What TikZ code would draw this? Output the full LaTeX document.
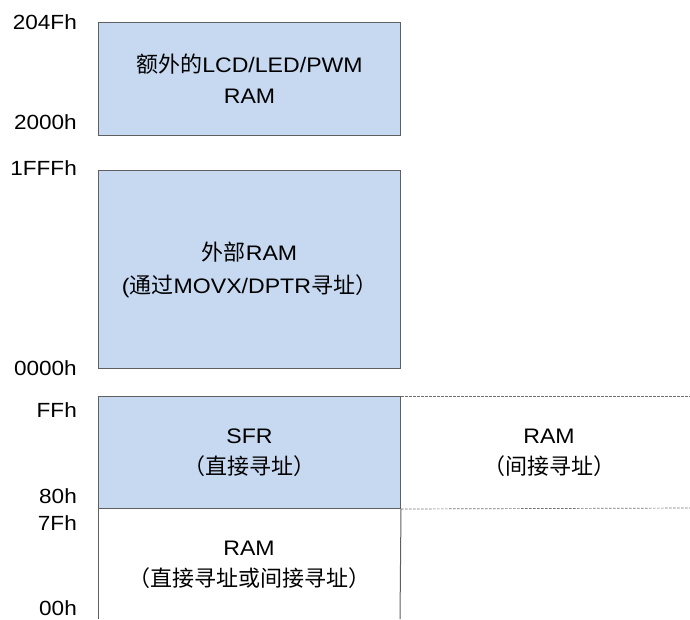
\documentclass[tikz,border=0pt]{standalone}
\usepackage{fontspec}
\setmainfont{Liberation Sans}[FakeStretch=1.1]
\newfontfamily\cjk{Noto Sans CJK SC}
\newcommand\zh[1]{{\cjk\fontsize{22}{31}\selectfont #1}}
\definecolor{boxfill}{HTML}{C6D9F1}
\definecolor{edge}{HTML}{5F5F5F}
\definecolor{dashgray}{HTML}{707070}
\begin{document}
\begin{tikzpicture}[x=1pt,y=-1pt,font=\fontsize{21}{31}\selectfont]
\useasboundingbox (0,0) rectangle (690,619);
\tikzset{
  mem/.style={draw=edge, fill=boxfill, line width=1pt, inner sep=0pt, anchor=north west, align=center},
  addr/.style={anchor=east, inner sep=0pt, font=\fontsize{20.5}{24}\selectfont},
  lbl/.style={align=center, inner sep=0pt},
  openline/.style={draw=edge, line width=1pt},
  ext/.style={draw=dashgray, line width=0.7pt, dash pattern=on 2.5pt off 1.5pt}
}
% top box
\node[mem, minimum width=302pt, minimum height=113pt] (lcd) at (98,22)
  {\zh{额外的}LCD/LED/PWM\\RAM};
% external RAM box
\node[mem, minimum width=302pt, minimum height=198pt] (xram) at (98,170)
  {\zh{外部}RAM\\[2pt](\zh{通过}MOVX/DPTR\zh{寻址）}};
% SFR box
\node[mem, minimum width=302pt, minimum height=112pt] (sfr) at (98,396)
  {SFR\\\zh{（直接寻址）}};
% lower RAM open box
\coordinate (lowL) at (98,619);
\coordinate (lowR) at (400,619);
\draw[openline] (sfr.south west) -- (lowL);
\draw[openline] (sfr.south east) -- (lowR);
\node[lbl] (lowram) at (249,565) {RAM\\\zh{（直接寻址或间接寻址）}};
% upper RAM (indirect)
\coordinate (dashA) at (690,396);
\coordinate (dashB) at (690,508);
\draw[ext] (sfr.north east) -- (dashA);
\draw[ext] (sfr.south east) -- (dashB);
\node[lbl] (iram) at (549,453) {RAM\\\zh{（间接寻址）}};
% address labels
\node[addr] (a1) at (77,22) {204Fh};
\node[addr] (a2) at (77,122) {2000h};
\node[addr] (a3) at (77,168) {1FFFh};
\node[addr] (a4) at (77,368) {0000h};
\node[addr] (a5) at (77,410) {FFh};
\node[addr] (a6) at (77,496) {80h};
\node[addr] (a7) at (77,523) {7Fh};
\node[addr] (a8) at (77,608) {00h};
\end{tikzpicture}
\end{document}
